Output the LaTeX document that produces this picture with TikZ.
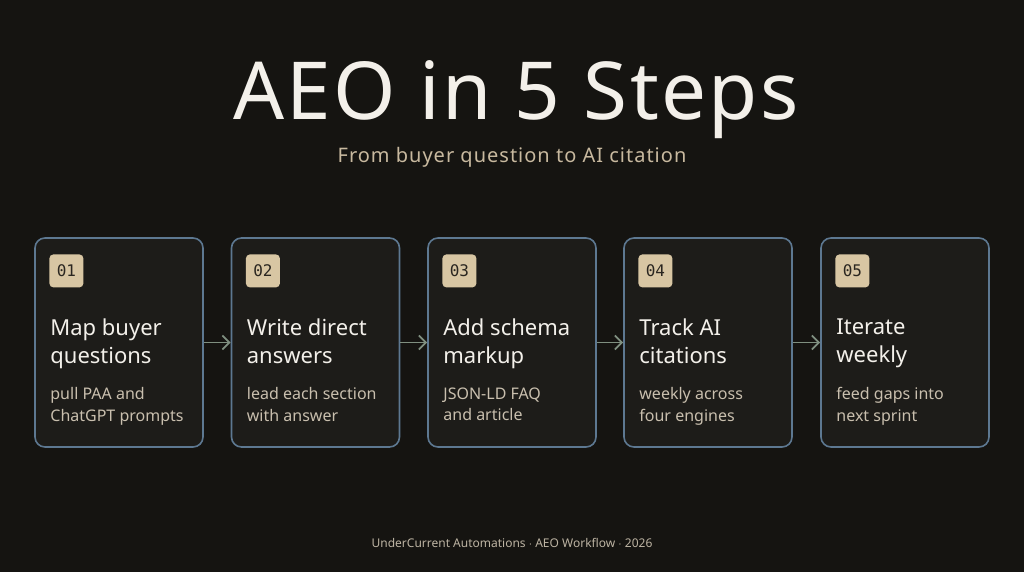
\documentclass[tikz,border=0pt]{standalone}
\usepackage{fontspec}
\setmainfont{Noto Sans}
\newfontfamily\titlefont{Noto Sans}[LetterSpace=3]
\newfontfamily\subfont{Noto Sans}[LetterSpace=5]
\newfontfamily\badgefont{DejaVu Sans Mono}
\usepackage{xcolor}
\usetikzlibrary{positioning, arrows.meta, calc}
\definecolor{bgdark}{HTML}{151411}
\definecolor{cardfill}{HTML}{1D1C19}
\definecolor{cardedge}{HTML}{5D7891}
\definecolor{badgefill}{HTML}{D8C6A3}
\definecolor{badgeink}{HTML}{2A2620}
\definecolor{headink}{HTML}{F3F0EA}
\definecolor{subink}{HTML}{C8B99F}
\definecolor{descink}{HTML}{C9BFAE}
\definecolor{flowarrow}{HTML}{7F8F80}
\definecolor{footink}{HTML}{BDB4A3}
\tikzset{
    card/.style={rectangle, draw=cardedge, line width=1.6pt, fill=cardfill, rounded corners=10pt, minimum width=168pt, minimum height=209pt, inner sep=0pt},
    badge/.style={rectangle, fill=badgefill, rounded corners=4pt, minimum width=34pt, minimum height=33pt, inner sep=0pt, text=badgeink, font=\badgefont\fontsize{16}{16}\selectfont},
    cardhead/.style={anchor=north west, inner sep=0pt, align=left, text=headink, font=\fontsize{22}{28}\selectfont},
    carddesc/.style={anchor=north west, inner sep=0pt, align=left, text=descink, font=\fontsize{16}{21.5}\selectfont},
    flow/.style={-{Straight Barb[length=7pt, width=14pt]}, draw=flowarrow, line width=1.8pt}
}

\begin{document}
\begin{tikzpicture}[x=1pt, y=-1pt]
    % Background
    \fill[bgdark] (0,0) rectangle (1024,572);
    \useasboundingbox (0,0) rectangle (1024,572);

    % Title block
    \node[anchor=base, text=headink, font=\titlefont\fontsize{80}{80}\selectfont] (title) at (516,120) {AEO in 5 Steps};
    \node[anchor=base, text=subink, font=\subfont\fontsize{20}{20}\selectfont] (subtitle) at (512,163) {From buyer question to AI citation};

    % Cards
    \node[card] (s1) at (119,342.5) {};
    \node[card] (s2) at (315.5,342.5) {};
    \node[card] (s3) at (512,342.5) {};
    \node[card] (s4) at (708,342.5) {};
    \node[card] (s5) at (905,342.5) {};

    % Badges
    \node[badge, anchor=north west, xshift=15pt, yshift=-17pt] (b1) at (s1.north west) {01};
    \node[badge, anchor=north west, xshift=15pt, yshift=-17pt] (b2) at (s2.north west) {02};
    \node[badge, anchor=north west, xshift=15pt, yshift=-17pt] (b3) at (s3.north west) {03};
    \node[badge, anchor=north west, xshift=15pt, yshift=-17pt] (b4) at (s4.north west) {04};
    \node[badge, anchor=north west, xshift=15pt, yshift=-17pt] (b5) at (s5.north west) {05};

    % Step headings
    \node[cardhead] (h1) at ($(s1.north west)+(16,81.5)$) {Map buyer\\questions};
    \node[cardhead] (h2) at ($(s2.north west)+(16,81.5)$) {Write direct\\answers};
    \node[cardhead] (h3) at ($(s3.north west)+(16,81.5)$) {Add schema\\markup};
    \node[cardhead] (h4) at ($(s4.north west)+(16,81.5)$) {Track AI\\citations};
    \node[cardhead] (h5) at ($(s5.north west)+(16,81.5)$) {Iterate\\weekly};

    % Step descriptions
    \node[carddesc] (d1) at ($(s1.north west)+(16,150)$) {pull PAA and\\ChatGPT prompts};
    \node[carddesc] (d2) at ($(s2.north west)+(16,150)$) {lead each section\\with answer};
    \node[carddesc] (d3) at ($(s3.north west)+(16,150)$) {JSON-LD FAQ\\and article};
    \node[carddesc] (d4) at ($(s4.north west)+(16,150)$) {weekly across\\four engines};
    \node[carddesc] (d5) at ($(s5.north west)+(16,150)$) {feed gaps into\\next sprint};

    % Flow arrows
    \draw[flow] (s1.east) -- (s2.west);
    \draw[flow] (s2.east) -- (s3.west);
    \draw[flow] (s3.east) -- (s4.west);
    \draw[flow] (s4.east) -- (s5.west);

    % Footer
    \node[text=footink, font=\fontsize{12}{12}\selectfont] (footer) at (512,543) {UnderCurrent Automations $\cdot$ AEO Workflow $\cdot$ 2026};
\end{tikzpicture}
\end{document}
